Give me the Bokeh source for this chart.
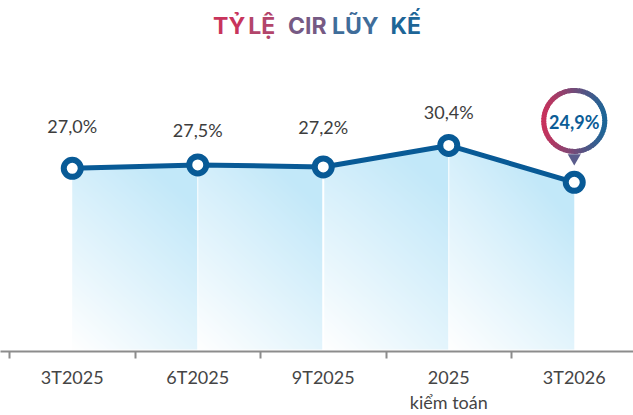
import numpy as np
from bokeh.plotting import figure
from bokeh.models import FixedTicker, Range1d, LinearAxis
from bokeh.core.properties import value
from bokeh.embed import file_html
from bokeh.resources import INLINE

# ---------------- data ----------------
categories = ["3T2025", "6T2025", "9T2025", "2025\nkiểm toán", "3T2026"]
cir_values = [27.0, 27.5, 27.2, 30.4, 24.9]
title_words = ["TỶ", "LỆ", "CIR", "LŨY", "KẾ"]

# ---------------- layout / style ----------------
W, H = 633, 415
BOTTOM = 61
FRAME_H = H - BOTTOM
CAT_PX = 125.5
X0 = 0.5 - 9 / CAT_PX
X1 = X0 + W / CAT_PX
PPU = 6.77
Y0 = -2 / PPU
Y1 = Y0 + FRAME_H / PPU

LINE_BLUE = "#085a96"
title_colors = ["#c8345c", "#b3456b", "#765a84", "#3f6d9a", "#1d6597"]
title_dx = [-94, -61.5, -16, 32, 82.5]   # px from centre of 3rd category
label_dy = [43, 35, 40, 34]              # px, label centre above point

xs = list(range(1, len(categories) + 1))
first_lines = [c.split("\n")[0] for c in categories]
second_lines = {x: c.split("\n")[1] for x, c in zip(xs, categories) if "\n" in c}

p = figure(width=W, height=H, x_range=Range1d(X0, X1), y_range=Range1d(Y0, Y1),
           output_backend="svg", toolbar_location=None, y_axis_location=None,
           min_border_left=0, min_border_right=0, min_border_top=0,
           min_border_bottom=BOTTOM)
p.outline_line_color = None
p.grid.visible = False
p.background_fill_color = "white"
p.border_fill_color = "white"

# ---------------- gradient area under line ----------------
nx = int(round((xs[-1] - xs[0]) * CAT_PX))
ymax = max(cir_values)
ny = int(round(ymax * PPU))
gx = xs[0] + (np.arange(nx) + 0.5) / nx * (xs[-1] - xs[0])
gy = (np.arange(ny) + 0.5) / ny * ymax
GX, GY = np.meshgrid(gx, gy)
top = np.interp(GX, xs, cir_values)
seg = np.clip(np.floor(GX - xs[0]), 0, len(xs) - 2)
u = GX - xs[0] - seg
v = GY / top
t = np.clip(0.7 * v + 0.45 * u, 0, 1)
c0 = np.array([255, 255, 255], dtype=float)
c1 = np.array([194, 232, 249], dtype=float)
inside = GY <= top
gap = np.zeros_like(inside)
for k in xs[1:-1]:
    gap |= np.abs(GX - k) < 0.75 / CAT_PX
alpha = np.where(inside & ~gap, 255, 0)
img = np.empty((ny, nx), dtype=np.uint32)
view = img.view(dtype=np.uint8).reshape((ny, nx, 4))
for ch in range(3):
    view[..., ch] = (c0[ch] + (c1[ch] - c0[ch]) * t).astype(np.uint8)
view[..., 3] = alpha.astype(np.uint8)
p.image_rgba(image=[img], x=xs[0], y=0, dw=xs[-1] - xs[0], dh=ymax)

# ---------------- line + markers ----------------
p.line(xs, cir_values, line_color=LINE_BLUE, line_width=5)
p.scatter(xs, cir_values, size=17, marker="circle", fill_color="white",
          line_color=LINE_BLUE, line_width=6)

# ---------------- data labels ----------------
fmt = lambda val: f"{val:.1f}".replace(".", ",") + "%"
p.text(x=xs[:-1], y=[val + d / PPU for val, d in zip(cir_values[:-1], label_dy)],
       text=[fmt(val) for val in cir_values[:-1]],
       text_align="center", text_baseline="alphabetic",
       text_font=value("Lato"), text_font_size="18px", text_color="#3d3d3d")

# ---------------- bubble on last point ----------------
bx, bv = xs[-1], cir_values[-1]
cy = bv + 62 / PPU
p.scatter([bx], [bv + 24.5 / PPU], marker="inverted_triangle", size=13,
          fill_color="#5a5c8c", line_color=None)
p.scatter([bx], [cy], marker="circle", size=61, fill_color="white", line_color=None)
N = 72
angles = np.linspace(0, 2 * np.pi, N + 1)
start = angles[:-1]
end = angles[1:] + 0.03
mid = (angles[:-1] + angles[1:]) / 2
tt = (1 - np.cos(mid)) / 2
red = np.array([200, 50, 92], dtype=float)
blue = np.array([29, 102, 152], dtype=float)
ring_colors = ["#%02x%02x%02x" % tuple((blue + (red - blue) * s).astype(int)) for s in tt]
p.arc(x=[bx] * N, y=[cy] * N, radius=30.5, radius_units="screen",
      start_angle=start, end_angle=end, line_color=ring_colors, line_width=5)
p.text(x=[bx], y=[bv + 61 / PPU], text=[fmt(bv)], text_align="center",
       text_baseline="alphabetic", text_font=value("Lato"), text_font_style="bold",
       text_font_size="18px", text_color="#0b5c96")

# ---------------- title ----------------
p.text(x=[3] * len(title_words), y=[Y1 - 25.3 / PPU] * len(title_words),
       text=title_words, x_offset=title_dx, text_color=title_colors,
       text_font=value("Inter"), text_font_style="bold", text_font_size="23px",
       text_align="center", text_baseline="alphabetic")

# ---------------- axes ----------------
ax = p.xaxis[0]
ax.ticker = FixedTicker(ticks=xs, minor_ticks=[x - 0.5 for x in xs])
ax.major_label_overrides = {x: c for x, c in zip(xs, first_lines)}
ax.axis_line_color = "#8c8c8c"
ax.axis_line_width = 2
ax.major_tick_line_color = None
ax.major_tick_out = 0
ax.major_tick_in = 0
ax.minor_tick_line_color = "#8c8c8c"
ax.minor_tick_line_width = 2
ax.minor_tick_out = 7
ax.minor_tick_in = 0
ax.major_label_text_font = "Lato"
ax.major_label_text_font_size = "18px"
ax.major_label_text_color = "#454545"
ax.major_label_standoff = 7

ax2 = LinearAxis(ticker=FixedTicker(ticks=list(second_lines.keys())),
                 major_label_overrides=second_lines)
ax2.axis_line_color = None
ax2.major_tick_line_color = None
ax2.minor_tick_line_color = None
ax2.major_tick_out = 0
ax2.major_tick_in = 0
ax2.minor_tick_out = 0
ax2.minor_tick_in = 0
ax2.major_label_text_font = "Lato"
ax2.major_label_text_font_size = "18px"
ax2.major_label_text_color = "#454545"
ax2.major_label_standoff = 0
p.add_layout(ax2, "below")

open("out.html", "w").write(file_html(p, INLINE))
